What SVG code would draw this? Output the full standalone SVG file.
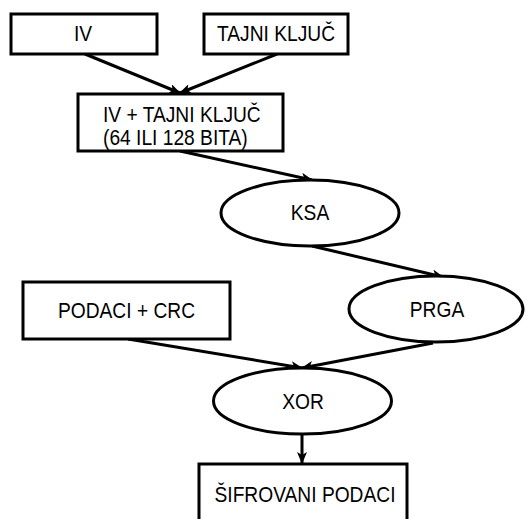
<svg xmlns="http://www.w3.org/2000/svg" width="526" height="519" viewBox="0 0 526 519">
<style>
.box{fill:#fff;stroke:#000;stroke-width:3}
.ell{fill:#fff;stroke:#000;stroke-width:3}
.lbl{font-family:"Liberation Sans",Arial,sans-serif;font-size:22px;fill:#000}
.c{text-anchor:middle}
.edge{fill:none;stroke:#000;stroke-width:3;marker-end:url(#arr)}
</style>
<defs>
<marker id="arr" markerUnits="userSpaceOnUse" viewBox="0 0 12 10" refX="11" refY="5" markerWidth="12" markerHeight="10" orient="auto">
<path d="M0,0 L12,5 L0,10 L3,5 z" fill="#000"/>
</marker>
</defs>
<g id="connectors">
<line class="edge" x1="85" y1="54" x2="180" y2="93"/>
<line class="edge" x1="277" y1="54" x2="180" y2="93"/>
<line class="edge" x1="180" y1="151" x2="312" y2="180"/>
<line class="edge" x1="312" y1="246" x2="443" y2="277"/>
<line class="edge" x1="128" y1="339" x2="302" y2="368"/>
<line class="edge" x1="433" y1="343" x2="302" y2="368"/>
<line class="edge" x1="302" y1="434" x2="302" y2="463"/>
</g>
<g id="iv">
<rect class="box" x="11" y="14" width="146" height="40"/>
<text class="lbl c" transform="translate(83,41) scale(0.873,1)">IV</text>
</g>
<g id="tajni">
<rect class="box" x="204" y="14" width="144" height="40"/>
<text class="lbl c" transform="translate(276,41) scale(0.873,1)">TAJNI KLJUČ</text>
</g>
<g id="ivkey">
<rect class="box" x="78" y="94" width="205" height="57"/>
<text class="lbl" transform="translate(103,121.5) scale(0.873,1)">IV + TAJNI KLJUČ</text>
<text class="lbl" transform="translate(103,145) scale(0.873,1)">(64 ILI 128 BITA)</text>
</g>
<g id="ksa">
<ellipse class="ell" cx="310" cy="213" rx="89" ry="33"/>
<text class="lbl c" transform="translate(310,220) scale(0.873,1)">KSA</text>
</g>
<g id="prga">
<ellipse class="ell" cx="436" cy="309" rx="87" ry="33"/>
<text class="lbl c" transform="translate(437,317) scale(0.873,1)">PRGA</text>
</g>
<g id="podaci">
<rect class="box" x="23" y="282" width="207" height="57"/>
<text class="lbl c" transform="translate(126.5,318) scale(0.873,1)">PODACI + CRC</text>
</g>
<g id="xor">
<ellipse class="ell" cx="302.5" cy="401" rx="89" ry="33"/>
<text class="lbl c" transform="translate(303,409) scale(0.873,1)">XOR</text>
</g>
<g id="sifrovani">
<rect class="box" x="199" y="464" width="208" height="57"/>
<text class="lbl c" transform="translate(305,502) scale(0.873,1)">ŠIFROVANI PODACI</text>
</g>
</svg>
